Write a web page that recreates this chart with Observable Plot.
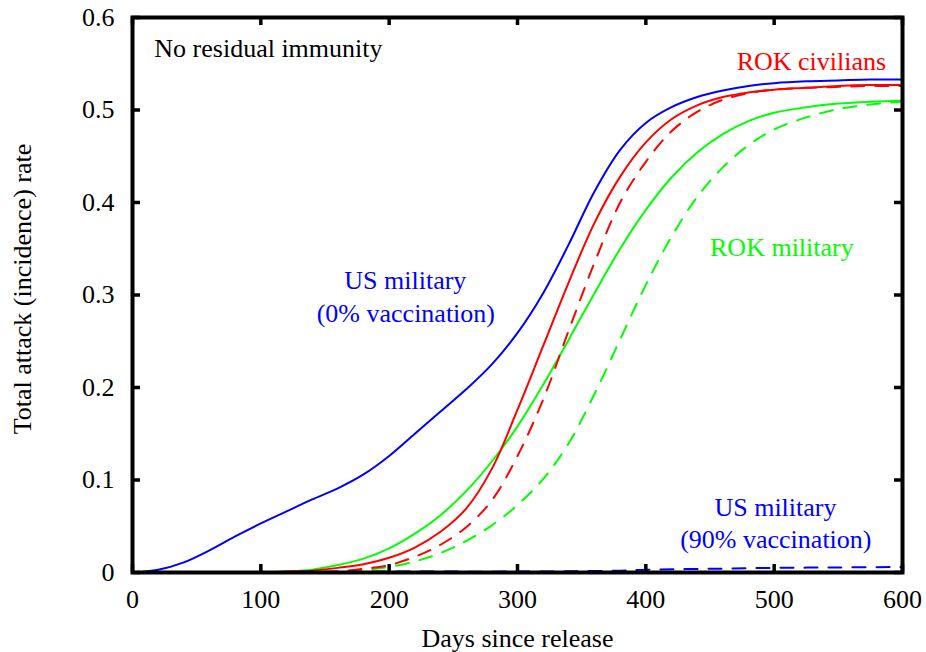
<!DOCTYPE html>
<html>
<head>
<meta charset="utf-8">
<script src="https://cdn.jsdelivr.net/npm/d3@7"></script>
<script src="https://cdn.jsdelivr.net/npm/@observablehq/plot@0.6"></script>
<style>
  html, body { margin: 0; padding: 0; background: #fff; }
</style>
</head>
<body>
<div id="chart"></div>
<script>
// ---- Data ----
const days = [0, 20, 40, 60, 80, 100, 120, 140, 160, 180, 200, 220, 240, 260, 280,
              300, 320, 340, 360, 380, 400, 420, 440, 460, 480, 500, 525, 550, 575, 600];

// US military, 0% vaccination (blue solid)
const usMil0 = [0, 0.003, 0.011, 0.024, 0.039, 0.053, 0.066, 0.079, 0.091, 0.106, 0.126, 0.150, 0.174, 0.198, 0.225,
                0.259, 0.302, 0.355, 0.412, 0.457, 0.486, 0.503, 0.514, 0.521, 0.526, 0.529, 0.531, 0.532, 0.533, 0.533];
// ROK civilians (red solid)
const rokCiv = [0, 0, 0, 0, 0, 0, 0.001, 0.002, 0.005, 0.009, 0.016, 0.027, 0.044, 0.069, 0.112,
                0.176, 0.245, 0.314, 0.378, 0.428, 0.465, 0.490, 0.505, 0.514, 0.519, 0.522, 0.524, 0.526, 0.527, 0.527];
// ROK civilians, second scenario (red dashed)
const rokCivB = [0, 0, 0, 0, 0, 0, 0, 0, 0.001, 0.004, 0.008, 0.017, 0.030, 0.049, 0.078,
                 0.126, 0.187, 0.262, 0.335, 0.400, 0.444, 0.477, 0.498, 0.511, 0.518, 0.522, 0.524, 0.525, 0.526, 0.526];
// ROK military (green solid)
const rokMil = [0, 0, 0, 0, 0, 0, 0.001, 0.003, 0.008, 0.015, 0.026, 0.042, 0.062, 0.088, 0.120,
                0.158, 0.203, 0.252, 0.302, 0.350, 0.392, 0.427, 0.454, 0.474, 0.488, 0.497, 0.503, 0.507, 0.509, 0.510];
// ROK military, second scenario (green dashed)
const rokMilB = [0, 0, 0, 0, 0, 0, 0, 0, 0.001, 0.003, 0.006, 0.012, 0.021, 0.034, 0.051,
                 0.073, 0.101, 0.140, 0.193, 0.252, 0.311, 0.363, 0.406, 0.438, 0.462, 0.479, 0.492, 0.501, 0.506, 0.509];
// US military, 90% vaccination (blue dashed)
const usMil90Days = [0, 100, 200, 300, 380, 400, 450, 500, 550, 600];
const usMil90 = [0, 0.0005, 0.001, 0.001, 0.002, 0.003, 0.004, 0.005, 0.0055, 0.006];

const xTicks = [0, 100, 200, 300, 400, 500, 600];
const yTicks = [0, 0.1, 0.2, 0.3, 0.4, 0.5, 0.6];

const titleX = "Days since release";
const titleY = "Total attack (incidence) rate";

// annotation labels: text, anchor day, anchor value, alignment, series
const noteText  = ["No residual immunity", "ROK civilians", "ROK military", "US military", "(0% vaccination)", "US military", "(90% vaccination)"];
const noteDay   = [17, 529, 506, 212.6, 213, 501, 501.3];
const noteValue = [0.566, 0.5524, 0.3517, 0.3157, 0.2803, 0.0706, 0.036];
const noteAlign = ["start", "middle", "middle", "middle", "middle", "middle", "middle"];
const noteGroup = ["plain", "red", "green", "blue", "blue", "blue", "blue"];

// ---- Styles ----
const palette = {blue: "#0000ff", red: "#ff0000", green: "#00ff00", plain: "#000000"};
const dash = "13,11";
const font = "'Liberation Serif', 'Times New Roman', Times, serif";

const seriesDefs = [
  {days: days, values: rokMilB, color: palette.green, dashed: true},
  {days: days, values: rokMil, color: palette.green, dashed: false},
  {days: days, values: rokCivB, color: palette.red, dashed: true},
  {days: days, values: rokCiv, color: palette.red, dashed: false},
  {days: days, values: usMil0, color: palette.blue, dashed: false},
  {days: usMil90Days, values: usMil90, color: palette.blue, dashed: true}
];

const notes = noteText.map((t, i) => ({text: t, day: noteDay[i], value: noteValue[i], align: noteAlign[i], color: palette[noteGroup[i]]}));

const W = 926, H = 652;
const mL = 132, mR = 24, mT = 17, mB = 80;
const innerW = W - mL - mR, innerH = H - mT - mB;
const tickLen = 8;

const marks = [];
for (const s of seriesDefs) {
  const pts = s.days.map((d, i) => ({day: d, value: s.values[i]}));
  marks.push(Plot.line(pts, {
    x: "day", y: "value", stroke: s.color, strokeWidth: 2,
    strokeDasharray: s.dashed ? dash : null, curve: "catmull-rom"
  }));
}

// inward ticks on all four sides
marks.push(Plot.tickX(xTicks, {x: d => d, insetTop: innerH - tickLen, stroke: "black", strokeWidth: 3.5}));
marks.push(Plot.tickX(xTicks, {x: d => d, insetBottom: innerH - tickLen, stroke: "black", strokeWidth: 3.5}));
marks.push(Plot.tickY(yTicks, {y: d => d, insetRight: innerW - tickLen, stroke: "black", strokeWidth: 3.5}));
marks.push(Plot.tickY(yTicks, {y: d => d, insetLeft: innerW - tickLen, stroke: "black", strokeWidth: 3.5}));

marks.push(Plot.frame({stroke: "black", strokeWidth: 4}));

marks.push(Plot.axisX({ticks: xTicks, tickSize: 0, tickPadding: 17, label: null, fontSize: 26, fill: "black"}));
marks.push(Plot.axisY({ticks: yTicks, tickSize: 0, tickPadding: 18, label: null, fontSize: 26, fill: "black",
  tickFormat: d => d === 0 ? "0" : d.toFixed(1)}));

marks.push(Plot.text([titleX], {text: d => d, frameAnchor: "bottom", textAnchor: "middle", lineAnchor: "middle", dy: 66, fontSize: 26, fill: "black"}));
marks.push(Plot.text([titleY], {text: d => d, frameAnchor: "left", textAnchor: "middle", lineAnchor: "middle", rotate: -90, dx: -110, dy: -6, fontSize: 26, fill: "black"}));

for (const align of ["start", "middle"]) {
  marks.push(Plot.text(notes.filter(n => n.align === align), {
    x: "day", y: "value", text: "text", textAnchor: align, fill: d => d.color, fontSize: 26
  }));
}

const chart = Plot.plot({
  width: W, height: H,
  marginLeft: mL, marginRight: mR, marginTop: mT, marginBottom: mB,
  x: {domain: [0, 600]},
  y: {domain: [0, 0.6]},
  color: {type: "identity"},
  style: {fontFamily: font, fontSize: "26px", background: "white", color: "black"},
  marks
});
document.getElementById("chart").appendChild(chart);
</script>
</body>
</html>
